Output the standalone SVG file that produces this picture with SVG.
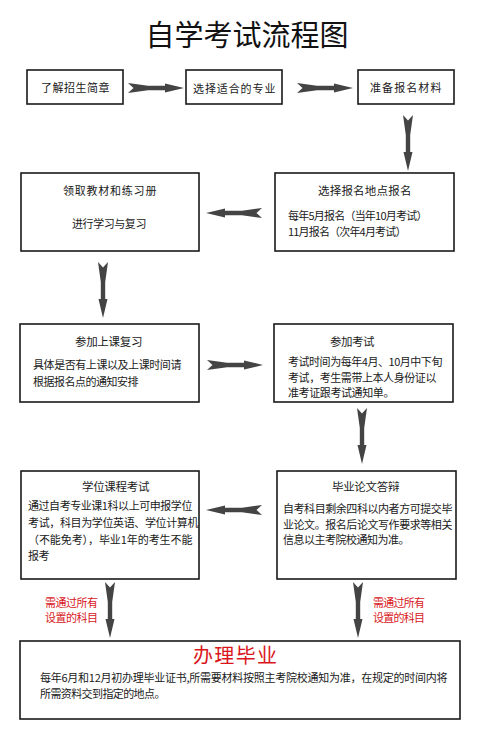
<svg xmlns="http://www.w3.org/2000/svg" xmlns:xlink="http://www.w3.org/1999/xlink" width="500" height="738" viewBox="0 0 500 738">
<style>
.box{fill:#fff;stroke:#1a1a1a;stroke-width:1.6}
.t{font-family:"Noto Sans CJK SC","Noto Sans",sans-serif;font-size:11px;fill:#1a1a1a;letter-spacing:0.6px}
.h{font-family:"Noto Sans CJK SC","Noto Sans",sans-serif;font-size:11.5px;fill:#1a1a1a;letter-spacing:0.6px}
.r{font-family:"Noto Sans CJK SC","Noto Sans",sans-serif;font-size:11px;fill:#d9161c}
.title{font-family:"Noto Sans CJK SC","Noto Sans",sans-serif;font-size:29px;fill:#111}
.big{font-family:"Noto Sans CJK SC","Noto Sans",sans-serif;font-size:20px;fill:#d9161c}
.arr{fill:#444}
</style>
<defs>
<path id="a" class="arr" d="M0,-5 L5.5,0 L0,5 L20,2.2 L37,2.2 L37,4.5 L56,0 L37,-4.5 L37,-2.2 L20,-2.2 Z"/>
</defs>
<rect width="500" height="738" fill="#fff"/>
<text class="title" x="247" y="46" text-anchor="middle">自学考试流程图</text>

<g id="connectors">
<use xlink:href="#a" transform="translate(128,88)"/>
<use xlink:href="#a" transform="translate(297,88)"/>
<use xlink:href="#a" transform="translate(408,115) rotate(90)"/>
<use xlink:href="#a" transform="translate(262,213) rotate(180)"/>
<use xlink:href="#a" transform="translate(103,262) rotate(90)"/>
<use xlink:href="#a" transform="translate(207,365)"/>
<use xlink:href="#a" transform="translate(362,408) rotate(90)"/>
<use xlink:href="#a" transform="translate(262,510) rotate(180)"/>
<use xlink:href="#a" transform="translate(110,582) rotate(90)"/>
<use xlink:href="#a" transform="translate(358,582) rotate(90)"/>
</g>

<g id="n1">
<rect class="box" x="27" y="70" width="96" height="34"/>
<text class="t" x="41" y="92" textLength="69">了解招生简章</text>
</g>
<g id="n2">
<rect class="box" x="186" y="70" width="96" height="34"/>
<text class="t" x="193" y="93" textLength="83">选择适合的专业</text>
</g>
<g id="n3">
<rect class="box" x="358" y="70" width="96" height="34"/>
<text class="t" x="370" y="92" textLength="72">准备报名材料</text>
</g>
<g id="n4">
<rect class="box" x="21" y="173" width="178" height="78"/>
<text class="t" x="63" y="195" textLength="94">领取教材和练习册</text>
<text class="t" x="72" y="228" textLength="75">进行学习与复习</text>
</g>
<g id="n5">
<rect class="box" x="275" y="173" width="179" height="78"/>
<text class="h" x="318" y="195" textLength="94">选择报名地点报名</text>
<text class="t" x="288" y="220" textLength="140">每年5月报名（当年10月考试）</text>
<text class="t" x="288" y="236" textLength="119">11月报名（次年4月考试）</text>
</g>
<g id="n6">
<rect class="box" x="20" y="324" width="179" height="78"/>
<text class="h" x="75" y="346" textLength="68">参加上课复习</text>
<text class="t" x="33" y="369" textLength="149">具体是否有上课以及上课时间请</text>
<text class="t" x="33" y="386" textLength="106">根据报名点的通知安排</text>
</g>
<g id="n7">
<rect class="box" x="274" y="324" width="179" height="78"/>
<text class="h" x="330" y="346" textLength="45">参加考试</text>
<text class="t" x="288" y="366" textLength="155">考试时间为每年4月、10月中下旬</text>
<text class="t" x="288" y="382" textLength="149">考试，考生需带上本人身份证以</text>
<text class="t" x="288" y="397" textLength="107">准考证跟考试通知单。</text>
</g>
<g id="n8">
<rect class="box" x="21" y="471" width="178" height="108"/>
<text class="h" x="82" y="491" textLength="68">学位课程考试</text>
<text class="t" x="28" y="510" textLength="165">通过自考专业课1科以上可申报学位</text>
<text class="t" x="28" y="527" textLength="171">考试，科目为学位英语、学位计算机</text>
<text class="t" x="28" y="544" textLength="165">（不能免考），毕业1年的考生不能</text>
<text class="t" x="28" y="560" textLength="22">报考</text>
</g>
<g id="n9">
<rect class="box" x="277" y="471" width="179" height="108"/>
<text class="h" x="332" y="491" textLength="68">毕业论文答辩</text>
<text class="t" x="283" y="513" textLength="170">自考科目剩余四科以内者方可提交毕</text>
<text class="t" x="283" y="529" textLength="170">业论文。报名后论文写作要求等相关</text>
<text class="t" x="283" y="544" textLength="127">信息以主考院校通知为准。</text>
</g>

<g id="labels">
<text class="r" x="45" y="607" textLength="53">需通过所有</text>
<text class="r" x="45" y="622" textLength="53">设置的科目</text>
<text class="r" x="373" y="607" textLength="52">需通过所有</text>
<text class="r" x="373" y="622" textLength="52">设置的科目</text>
</g>

<g id="n10">
<rect class="box" x="20" y="641" width="440" height="78"/>
<text class="big" x="235" y="663" text-anchor="middle" textLength="84">办理毕业</text>
<text class="t" x="40" y="682" textLength="408">每年6月和12月初办理毕业证书,所需要材料按照主考院校通知为准，在规定的时间内将</text>
<text class="t" x="40" y="698" textLength="126">所需资料交到指定的地点。</text>
</g>
</svg>
